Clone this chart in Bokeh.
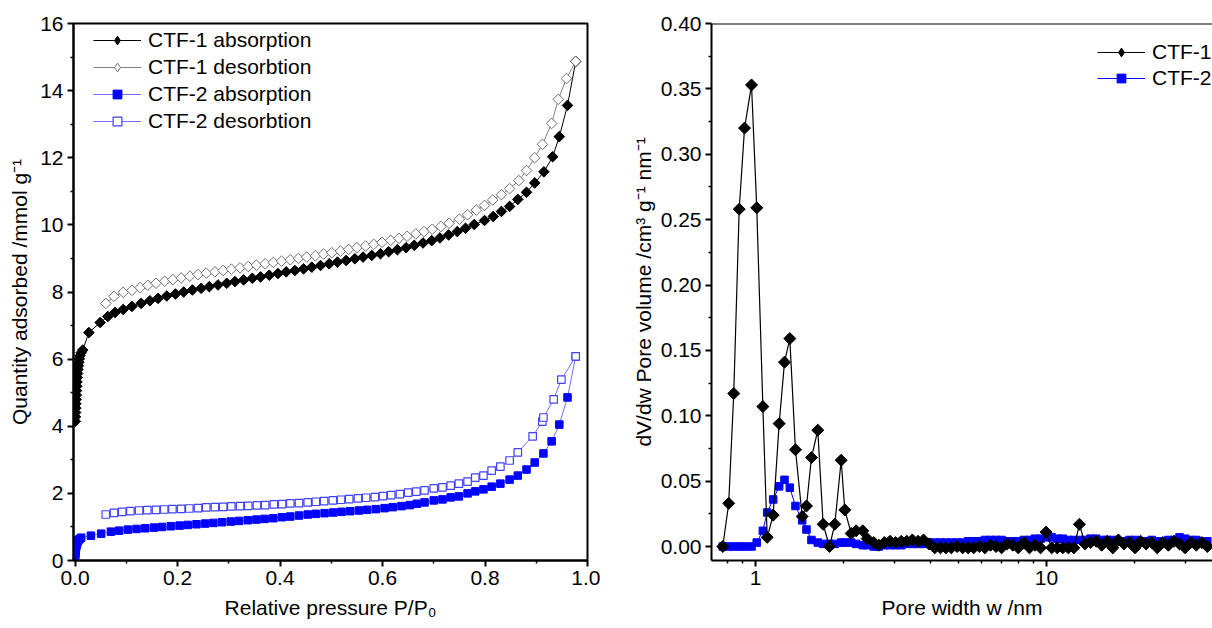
import numpy as np
from bokeh.plotting import figure
from bokeh.layouts import row
from bokeh.models import (Legend, LegendItem, FixedTicker, PrintfTickFormatter,
                          Span, Range1d)
from bokeh.embed import file_html
from bokeh.resources import INLINE

FONT = "Liberation Sans"
FS = "21px"

# ---------------- Left panel data: N2 isotherms ----------------
ctf1_ads_p = [0.0005, 0.0008, 0.0011, 0.0014, 0.0017, 0.0020, 0.0024, 0.0028, 0.0033, 0.0038,
              0.0044, 0.0050, 0.0058, 0.0066, 0.0075, 0.0085, 0.0098, 0.0120, 0.0150,
              0.027, 0.049, 0.064, 0.078, 0.094, 0.111, 0.129, 0.146, 0.162, 0.179,
              0.196, 0.212, 0.229, 0.246, 0.262, 0.279, 0.296, 0.312, 0.329, 0.346,
              0.362, 0.379, 0.396, 0.412, 0.429, 0.446, 0.462, 0.479, 0.496, 0.512,
              0.529, 0.546, 0.562, 0.579, 0.596, 0.612, 0.629, 0.646, 0.662, 0.679,
              0.696, 0.712, 0.729, 0.746, 0.762, 0.779, 0.799, 0.816, 0.832, 0.848,
              0.864, 0.881, 0.897, 0.915, 0.932, 0.945, 0.961, 0.977]
ctf1_ads_q = [4.15, 4.28, 4.41, 4.54, 4.67, 4.80, 4.93, 5.06, 5.19, 5.32,
              5.45, 5.57, 5.69, 5.80, 5.91, 6.01, 6.10, 6.19, 6.27,
              6.79, 7.09, 7.27, 7.39, 7.48, 7.57, 7.66, 7.74, 7.81, 7.88,
              7.94, 8.00, 8.06, 8.11, 8.16, 8.21, 8.26, 8.31, 8.36, 8.41,
              8.45, 8.50, 8.55, 8.60, 8.64, 8.69, 8.74, 8.79, 8.84, 8.89,
              8.94, 8.99, 9.04, 9.09, 9.14, 9.20, 9.26, 9.32, 9.39, 9.46,
              9.53, 9.61, 9.70, 9.80, 9.90, 10.01, 10.13, 10.25, 10.40, 10.55,
              10.76, 10.97, 11.25, 11.58, 12.03, 12.63, 13.56, 14.87]

ctf1_des_p = [0.060, 0.076, 0.094, 0.111, 0.127, 0.142, 0.158, 0.175, 0.191, 0.207,
              0.224, 0.240, 0.256, 0.273, 0.289, 0.305, 0.322, 0.338, 0.354, 0.371,
              0.387, 0.403, 0.420, 0.436, 0.452, 0.469, 0.485, 0.501, 0.518, 0.534,
              0.550, 0.567, 0.583, 0.599, 0.616, 0.632, 0.648, 0.665, 0.681, 0.697,
              0.714, 0.730, 0.750, 0.766, 0.783, 0.799, 0.815, 0.832, 0.848, 0.866,
              0.881, 0.897, 0.912, 0.930, 0.943, 0.959, 0.977]
ctf1_des_q = [7.66, 7.87, 7.99, 8.05, 8.13, 8.20, 8.26, 8.32, 8.37, 8.42,
              8.47, 8.52, 8.56, 8.60, 8.64, 8.68, 8.72, 8.76, 8.80, 8.84,
              8.88, 8.92, 8.96, 9.00, 9.04, 9.08, 9.13, 9.17, 9.22, 9.27,
              9.32, 9.37, 9.42, 9.48, 9.54, 9.60, 9.66, 9.73, 9.80, 9.87,
              9.95, 10.05, 10.17, 10.30, 10.44, 10.58, 10.74, 10.90, 11.08, 11.32,
              11.62, 12.00, 12.40, 13.02, 13.74, 14.36, 14.87]

ctf2_ads_p = [0.0005, 0.0008, 0.0011, 0.0015, 0.0020, 0.0027, 0.0036, 0.0048, 0.0065, 0.0088, 0.0120,
              0.031, 0.051, 0.070, 0.086, 0.103, 0.120, 0.137, 0.154, 0.170, 0.187,
              0.204, 0.220, 0.237, 0.254, 0.270, 0.287, 0.304, 0.320, 0.337, 0.354,
              0.370, 0.387, 0.404, 0.420, 0.437, 0.454, 0.470, 0.487, 0.504, 0.520,
              0.537, 0.554, 0.570, 0.587, 0.604, 0.620, 0.637, 0.653, 0.667, 0.682,
              0.700, 0.717, 0.733, 0.749, 0.766, 0.781, 0.797, 0.813, 0.830, 0.848,
              0.864, 0.881, 0.897, 0.914, 0.930, 0.945, 0.961, 0.977]
ctf2_ads_q = [0.12, 0.20, 0.27, 0.33, 0.39, 0.45, 0.50, 0.55, 0.60, 0.64, 0.68,
              0.74, 0.80, 0.86, 0.89, 0.92, 0.94, 0.96, 0.98, 1.00, 1.02,
              1.04, 1.06, 1.08, 1.10, 1.12, 1.14, 1.16, 1.18, 1.20, 1.22,
              1.24, 1.26, 1.29, 1.31, 1.34, 1.37, 1.39, 1.41, 1.43, 1.45,
              1.47, 1.49, 1.51, 1.53, 1.56, 1.59, 1.62, 1.65, 1.69, 1.73,
              1.79, 1.82, 1.88, 1.91, 2.00, 2.06, 2.12, 2.20, 2.29, 2.41,
              2.53, 2.71, 2.92, 3.19, 3.55, 4.05, 4.86, 6.08]

ctf2_des_p = [0.060, 0.076, 0.092, 0.108, 0.125, 0.141, 0.158, 0.174, 0.190, 0.207,
              0.223, 0.240, 0.256, 0.273, 0.289, 0.305, 0.322, 0.338, 0.355, 0.371,
              0.388, 0.404, 0.420, 0.437, 0.454, 0.470, 0.486, 0.503, 0.519, 0.535,
              0.552, 0.568, 0.585, 0.601, 0.617, 0.634, 0.650, 0.666, 0.682, 0.700,
              0.717, 0.733, 0.749, 0.766, 0.781, 0.797, 0.813, 0.830, 0.848, 0.864,
              0.893, 0.912, 0.914, 0.934, 0.949, 0.977]
ctf2_des_q = [1.37, 1.42, 1.45, 1.47, 1.49, 1.50, 1.51, 1.52, 1.53, 1.54,
              1.55, 1.56, 1.58, 1.59, 1.60, 1.61, 1.62, 1.63, 1.64, 1.65,
              1.67, 1.68, 1.70, 1.71, 1.73, 1.75, 1.77, 1.79, 1.81, 1.83,
              1.85, 1.87, 1.89, 1.92, 1.95, 1.98, 2.02, 2.05, 2.09, 2.15,
              2.18, 2.23, 2.29, 2.35, 2.47, 2.53, 2.68, 2.80, 2.98, 3.22,
              3.70, 4.14, 4.26, 4.80, 5.39, 6.08]

left_x_ticks = [0.0, 0.2, 0.4, 0.6, 0.8, 1.0]
left_x_minor = [0.1, 0.3, 0.5, 0.7, 0.9]
left_y_ticks = [0, 2, 4, 6, 8, 10, 12, 14, 16]
left_y_minor = [1, 3, 5, 7, 9, 11, 13, 15]

# ---------------- Right panel data: pore size distribution ----------------
pore_w = [0.772, 0.809, 0.842, 0.879, 0.917, 0.969, 1.010, 1.060, 1.097, 1.150,
          1.206, 1.258, 1.312, 1.372, 1.447, 1.497, 1.557, 1.637, 1.708, 1.796,
          1.873, 1.970, 2.027, 2.132, 2.218, 2.337, 2.420, 2.550, 2.653,
          2.77, 2.90, 3.03, 3.17, 3.31, 3.46, 3.62, 3.78, 3.95, 4.13,
          4.32, 4.51, 4.71, 4.93, 5.15, 5.38, 5.62, 5.88, 6.14, 6.42,
          6.71, 7.01, 7.33, 7.66, 8.00, 8.36, 8.74, 9.13, 9.54, 9.97,
          10.42, 10.89, 11.38, 11.89, 12.42, 12.98, 13.56, 14.17, 14.81, 15.48,
          16.17, 16.90, 17.66, 18.45, 19.28, 20.15, 21.06, 22.01, 23.00, 24.03,
          25.11, 26.24, 27.42, 28.66, 29.95, 31.30, 32.70, 34.20, 35.70]
ctf1_dv = [0.000, 0.033, 0.117, 0.258, 0.320, 0.353, 0.259, 0.107, 0.007, 0.024,
           0.094, 0.141, 0.159, 0.074, 0.023, 0.031, 0.068, 0.089, 0.017, 0.000,
           0.017, 0.066, 0.028, 0.010, 0.012, 0.012, 0.006, 0.003, 0.001,
           0.003, 0.004, 0.003, 0.004, 0.004, 0.005, 0.004, 0.005, 0.002, -0.001,
           -0.001, -0.001, -0.001, 0.000, -0.001, -0.001, -0.001, 0.000, -0.001, 0.001,
           0.000, -0.001, 0.002, 0.001, -0.001, 0.003, -0.001, 0.001, -0.001, 0.011,
           -0.001, -0.001, -0.001, -0.001, -0.001, 0.017, 0.002, 0.003, 0.004, 0.001,
           0.004, -0.001, 0.005, 0.002, 0.003, -0.001, 0.004, 0.002, 0.003, -0.001,
           0.003, 0.001, 0.004, 0.002, -0.001, 0.003, 0.001, 0.003, 0.000]
ctf2_dv = [0.000, 0.000, 0.000, 0.000, 0.000, 0.000, 0.003, 0.012, 0.026, 0.036,
           0.046, 0.051, 0.045, 0.031, 0.020, 0.013, 0.005, 0.003, 0.002, 0.002,
           0.002, 0.003, 0.003, 0.003, 0.002, 0.001, 0.001, 0.000, 0.000,
           0.001, 0.001, 0.001, 0.001, 0.002, 0.002, 0.002, 0.002, 0.003, 0.003,
           0.003, 0.003, 0.003, 0.003, 0.003, 0.004, 0.004, 0.004, 0.005, 0.005,
           0.005, 0.005, 0.004, 0.004, 0.004, 0.005, 0.005, 0.006, 0.006, 0.007,
           0.007, 0.006, 0.006, 0.005, 0.005, 0.005, 0.005, 0.006, 0.006, 0.005,
           0.005, 0.005, 0.004, 0.004, 0.005, 0.005, 0.004, 0.004, 0.005, 0.004,
           0.004, 0.005, 0.005, 0.007, 0.006, 0.005, 0.005, 0.004, 0.004]

right_x_ticks = [1, 10]
right_x_minor = [0.8, 0.9, 2, 3, 4, 5, 6, 7, 8, 9, 20, 30]
right_y_ticks = [0.00, 0.05, 0.10, 0.15, 0.20, 0.25, 0.30, 0.35, 0.40]
right_y_minor = [0.025, 0.075, 0.125, 0.175, 0.225, 0.275, 0.325, 0.375]

DIAMOND = np.pi / 4
NO_POINT = [float("nan")]   # legend-only glyphs: nothing drawn in the plot area


def style_axis(ax, fmt):
    ax.formatter = PrintfTickFormatter(format=fmt)
    ax.axis_line_width = 2
    ax.axis_line_color = "black"
    ax.major_tick_line_width = 2
    ax.major_tick_line_color = "black"
    ax.major_tick_in = 0
    ax.major_tick_out = 6
    ax.minor_tick_line_width = 1.5
    ax.minor_tick_line_color = "black"
    ax.minor_tick_in = 0
    ax.minor_tick_out = 3
    ax.major_label_text_font = FONT
    ax.major_label_text_font_size = FS
    ax.major_label_text_color = "black"
    ax.major_label_standoff = 4
    ax.axis_label_text_font = FONT
    ax.axis_label_text_font_size = FS
    ax.axis_label_text_font_style = "normal"
    ax.axis_label_text_color = "black"


# ---------------- Left figure ----------------
p1 = figure(width=600, height=628, x_range=Range1d(-0.003, 1.0), y_range=Range1d(0, 16),
            output_backend="svg", toolbar_location=None,
            min_border_left=73, min_border_right=13, min_border_top=23, min_border_bottom=68)
p1.grid.visible = False
p1.outline_line_color = "black"
p1.outline_line_width = 2
p1.outline_line_alpha = 1.0

p1.xaxis.ticker = FixedTicker(ticks=left_x_ticks, minor_ticks=left_x_minor)
p1.yaxis.ticker = FixedTicker(ticks=left_y_ticks, minor_ticks=left_y_minor)
style_axis(p1.xaxis[0], "%.1f")
style_axis(p1.yaxis[0], "%d")
p1.xaxis.axis_label = "Relative pressure P/P\u2080"
p1.yaxis.axis_label = "Quantity adsorbed /mmol g\u207b\u00b9"
p1.xaxis.axis_label_standoff = 8
p1.yaxis.axis_label_standoff = 6

l_a1 = p1.line(ctf1_ads_p, ctf1_ads_q, line_color="black", line_width=1)
s_a1 = p1.scatter(ctf1_ads_p, ctf1_ads_q, marker="square", angle=DIAMOND, size=7.5,
                  fill_color="black", line_color="black")
l_a2 = p1.line(ctf2_ads_p, ctf2_ads_q, line_color="#7070ff", line_width=1)
s_a2 = p1.scatter(ctf2_ads_p, ctf2_ads_q, marker="square", size=7.5,
                  fill_color="#0000ff", line_color="#0000ff")
l_d1 = p1.line(ctf1_des_p, ctf1_des_q, line_color="#808080", line_width=1)
s_d1 = p1.scatter(ctf1_des_p, ctf1_des_q, marker="square", angle=DIAMOND, size=7.5,
                  fill_color="white", line_color="#707070", line_width=1)
l_d2 = p1.line(ctf2_des_p, ctf2_des_q, line_color="#7070ff", line_width=1)
s_d2 = p1.scatter(ctf2_des_p, ctf2_des_q, marker="square", size=7.5,
                  fill_color="white", line_color="#4040ff", line_width=1.2)

# legend-only diamond glyphs (the legend does not rotate markers)
k_a1 = p1.scatter(NO_POINT, NO_POINT, marker="diamond", fill_color="black", line_color="black")
k_d1 = p1.scatter(NO_POINT, NO_POINT, marker="diamond", fill_color="white", line_color="#707070")

leg1 = Legend(items=[
    LegendItem(label="CTF-1 absorption", renderers=[l_a1, k_a1]),
    LegendItem(label="CTF-1 desorbtion", renderers=[l_d1, k_d1]),
    LegendItem(label="CTF-2 absorption", renderers=[l_a2, s_a2]),
    LegendItem(label="CTF-2 desorbtion", renderers=[l_d2, s_d2]),
], location=(20, 427), spacing=3)

# ---------------- Right figure ----------------
p2 = figure(width=612, height=628, x_axis_type="log",
            x_range=Range1d(0.706, 37.2), y_range=Range1d(-0.0107, 0.40),
            output_backend="svg", toolbar_location=None,
            min_border_left=111, min_border_right=0, min_border_top=23, min_border_bottom=68)
p2.grid.visible = False
p2.outline_line_color = None
p2.add_layout(Span(location=0.40, dimension="width", line_color="black", line_width=2))

p2.xaxis.ticker = FixedTicker(ticks=right_x_ticks, minor_ticks=right_x_minor)
p2.yaxis.ticker = FixedTicker(ticks=right_y_ticks, minor_ticks=right_y_minor)
style_axis(p2.xaxis[0], "%d")
style_axis(p2.yaxis[0], "%.2f")
p2.xaxis.axis_label = "Pore width w /nm"
p2.yaxis.axis_label = "dV/dw Pore volume /cm\u00b3 g\u207b\u00b9 nm\u207b\u00b9"
p2.xaxis.axis_label_standoff = 8
p2.yaxis.axis_label_standoff = 3

r_l2 = p2.line(pore_w, ctf2_dv, line_color="#0000ff", line_width=1)
r_s2 = p2.scatter(pore_w, ctf2_dv, marker="square", size=7.5,
                  fill_color="#0000ff", line_color="#0000ff")
r_l1 = p2.line(pore_w, ctf1_dv, line_color="black", line_width=1.2)
r_s1 = p2.scatter(pore_w, ctf1_dv, marker="square", angle=DIAMOND, size=8.5,
                  fill_color="black", line_color="black")
k_1 = p2.scatter(NO_POINT, NO_POINT, marker="diamond", fill_color="black", line_color="black")

leg2 = Legend(items=[
    LegendItem(label="CTF-1", renderers=[r_l1, k_1]),
    LegendItem(label="CTF-2", renderers=[r_l2, r_s2]),
], location=(386, 470), spacing=2)

for lg, p in [(leg1, p1), (leg2, p2)]:
    lg.border_line_color = None
    lg.background_fill_alpha = 0
    lg.label_text_font = FONT
    lg.label_text_font_size = FS
    lg.label_text_color = "black"
    lg.glyph_width = 48
    lg.glyph_height = 22
    lg.label_height = 24
    lg.padding = 0
    lg.margin = 0
    lg.label_standoff = 7
    p.add_layout(lg)

layout = row(p1, p2)
open("out.html", "w").write(file_html(layout, INLINE))
